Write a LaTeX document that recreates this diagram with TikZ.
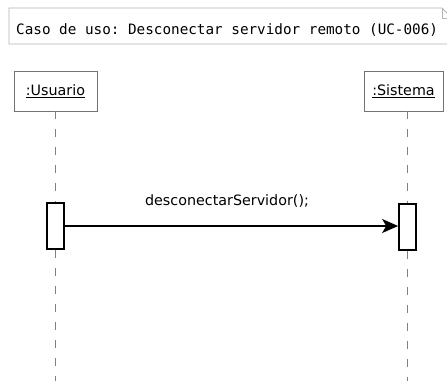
\documentclass[tikz,border=0pt]{standalone}
\usepackage{fontspec}
\setmainfont{DejaVu Sans}
\setmonofont{DejaVu Sans Mono}
\usetikzlibrary{arrows.meta,calc}
\tikzset{
	notebox/.style={draw=black!30, line width=0.8pt},
	partbox/.style={draw=black!55, line width=0.9pt, fill=white, minimum height=40pt, inner sep=0pt, font=\fontsize{14.3}{16}\selectfont},
	actbar/.style={draw=black, line width=1.7pt, fill=white, minimum width=17pt, minimum height=46pt, inner sep=0pt},
	lifeline/.style={draw=black!50, line width=1.2pt, dash pattern=on 8pt off 10pt},
	msgarrow/.style={line width=1.7pt, -{Stealth[length=16pt,width=14pt,inset=4pt]}},
}

\begin{document}
\begin{tikzpicture}[x=1pt,y=-1pt]
			%%%%% START %%%%%
			\useasboundingbox (0,0) rectangle (447,381);
			
			\draw[notebox] (9,8) -- (442,8) -- (452,18) -- (452,44) -- (9,44) -- cycle;
			\draw[notebox] (442,8) -- (442,18) -- (452,18);
			\node[anchor=base west, inner sep=0pt, font=\ttfamily\fontsize{14.3}{16}\selectfont] (titulo) at (16,34) {Caso de uso: Desconectar servidor remoto (UC-006)};
			
			\node[partbox, minimum width=83pt] (usuario) at (55.5,91) {\underline{:Usuario}};
			\node[partbox, minimum width=79pt] (sistema) at (403.5,91) {\underline{:Sistema}};
			
			\node[actbar] (barU) at (55.5,226) {};
			\node[actbar] (barS) at (407.5,227) {};
			\coordinate (finU) at (55.5,381);
			\coordinate (finS) at (407.5,381);
			
			\draw[lifeline] (usuario.south) -- (barU.north);
			\draw[lifeline] (barU.south) -- (finU);
			\draw[lifeline] (barS.north |- sistema.south) -- (barS.north);
			\draw[lifeline] (barS.south) -- (finS);
			
			\draw[msgarrow] (barU.east) -- (barU.east -| barS.west);
			\node[anchor=base, inner sep=0pt, font=\fontsize{14.3}{16}\selectfont] (msg) at (227,205) {desconectarServidor();};
			%%%%% END %%%%%
\end{tikzpicture}
\end{document}
